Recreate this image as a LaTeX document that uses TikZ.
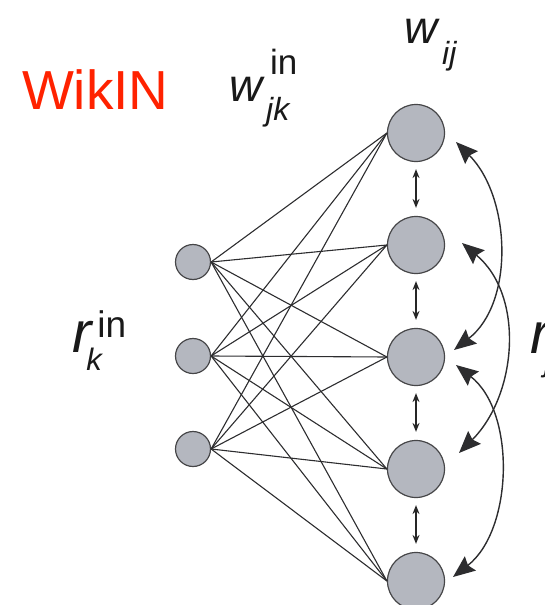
\documentclass[tikz,border=0pt]{standalone}
\usepackage{fontspec}
\setmainfont{Liberation Sans}
\usetikzlibrary{arrows.meta,calc}
\definecolor{nodefill}{RGB}{180,183,191}
\definecolor{nodeedge}{RGB}{70,70,72}
\definecolor{linegray}{RGB}{45,45,47}
\definecolor{wikired}{RGB}{255,34,0}
\tikzset{
  inneuron/.style={circle,draw=nodeedge,fill=nodefill,line width=1.2pt,minimum size=35pt,inner sep=0pt},
  outneuron/.style={circle,draw=nodeedge,fill=nodefill,line width=1.2pt,minimum size=57pt,inner sep=0pt},
  wire/.style={draw=linegray,line width=1.1pt},
  lateral/.style={draw=black!85,line width=1.4pt,>={Stealth[length=9pt,width=7pt]},<->},
  recur/.style={draw=linegray,line width=1.4pt,>={Stealth[length=22pt,width=18pt,inset=3pt]},<->},
  lbl/.style={anchor=base west,inner sep=0pt,outer sep=0pt,text=black!90}
}
\begin{document}
\begin{tikzpicture}[x=1pt,y=-1pt]
\useasboundingbox (0,0) rectangle (544,605);
% input neurons
\node[inneuron] (i1) at (193,262) {};
\node[inneuron] (i2) at (193,356) {};
\node[inneuron] (i3) at (193,449) {};
% output neurons
\node[outneuron] (o1) at (416,133) {};
\node[outneuron] (o2) at (416,245) {};
\node[outneuron] (o3) at (416,357) {};
\node[outneuron] (o4) at (416,469) {};
\node[outneuron] (o5) at (416,581) {};
% feed-forward connections
\foreach \a in {i1,i2,i3}{
  \foreach \b in {o1,o2,o3,o4,o5}{
    \draw[wire] (\a.east) -- (\b.west);
  }
}
% lateral arrows
\draw[lateral,shorten <=7pt,shorten >=8pt] (o1.south) -- (o2.north);
\draw[lateral,shorten <=7pt,shorten >=8pt] (o2.south) -- (o3.north);
\draw[lateral,shorten <=7pt,shorten >=8pt] (o3.south) -- (o4.north);
\draw[lateral,shorten <=7pt,shorten >=8pt] (o4.south) -- (o5.north);
% recurrent arcs
\draw[recur] ($(o1)+(40,9)$) to[out=-45,in=38,looseness=0.95] ($(o3)+(38,-7)$);
\draw[recur] ($(o2)+(46,-2)$) to[out=-40,in=45,looseness=1.0] ($(o4)+(43,-16)$);
\draw[recur] ($(o3)+(40,8)$) to[out=-38,in=38,looseness=0.92] ($(o5)+(37,-4)$);
% labels
\node[lbl,text=wikired] (wik) at (22,109) {\fontsize{55}{55}\selectfont WikIN};
\node[lbl] (wjk) at (229,101) {\fontsize{46}{46}\selectfont\itshape w\rlap{\kern8pt\raisebox{27pt}{\upshape\fontsize{35}{35}\selectfont in}}\kern4pt\raisebox{-19pt}{\fontsize{32}{32}\selectfont jk}};
\node[lbl] (wij) at (404,43) {\fontsize{46}{46}\selectfont\itshape w\kern5pt\raisebox{-21pt}{\fontsize{32}{32}\selectfont ij}};
\node[lbl] (rk) at (72,352) {\fontsize{58}{58}\selectfont\itshape r\rlap{\kern6pt\raisebox{15pt}{\upshape\fontsize{37}{37}\selectfont in}}\kern-5pt\raisebox{-18pt}{\fontsize{31}{31}\selectfont k}};
\node[lbl] (rj) at (530,353) {\fontsize{58}{58}\selectfont\itshape r\kern-5pt\raisebox{-18pt}{\fontsize{31}{31}\selectfont j}};
\end{tikzpicture}
\end{document}
